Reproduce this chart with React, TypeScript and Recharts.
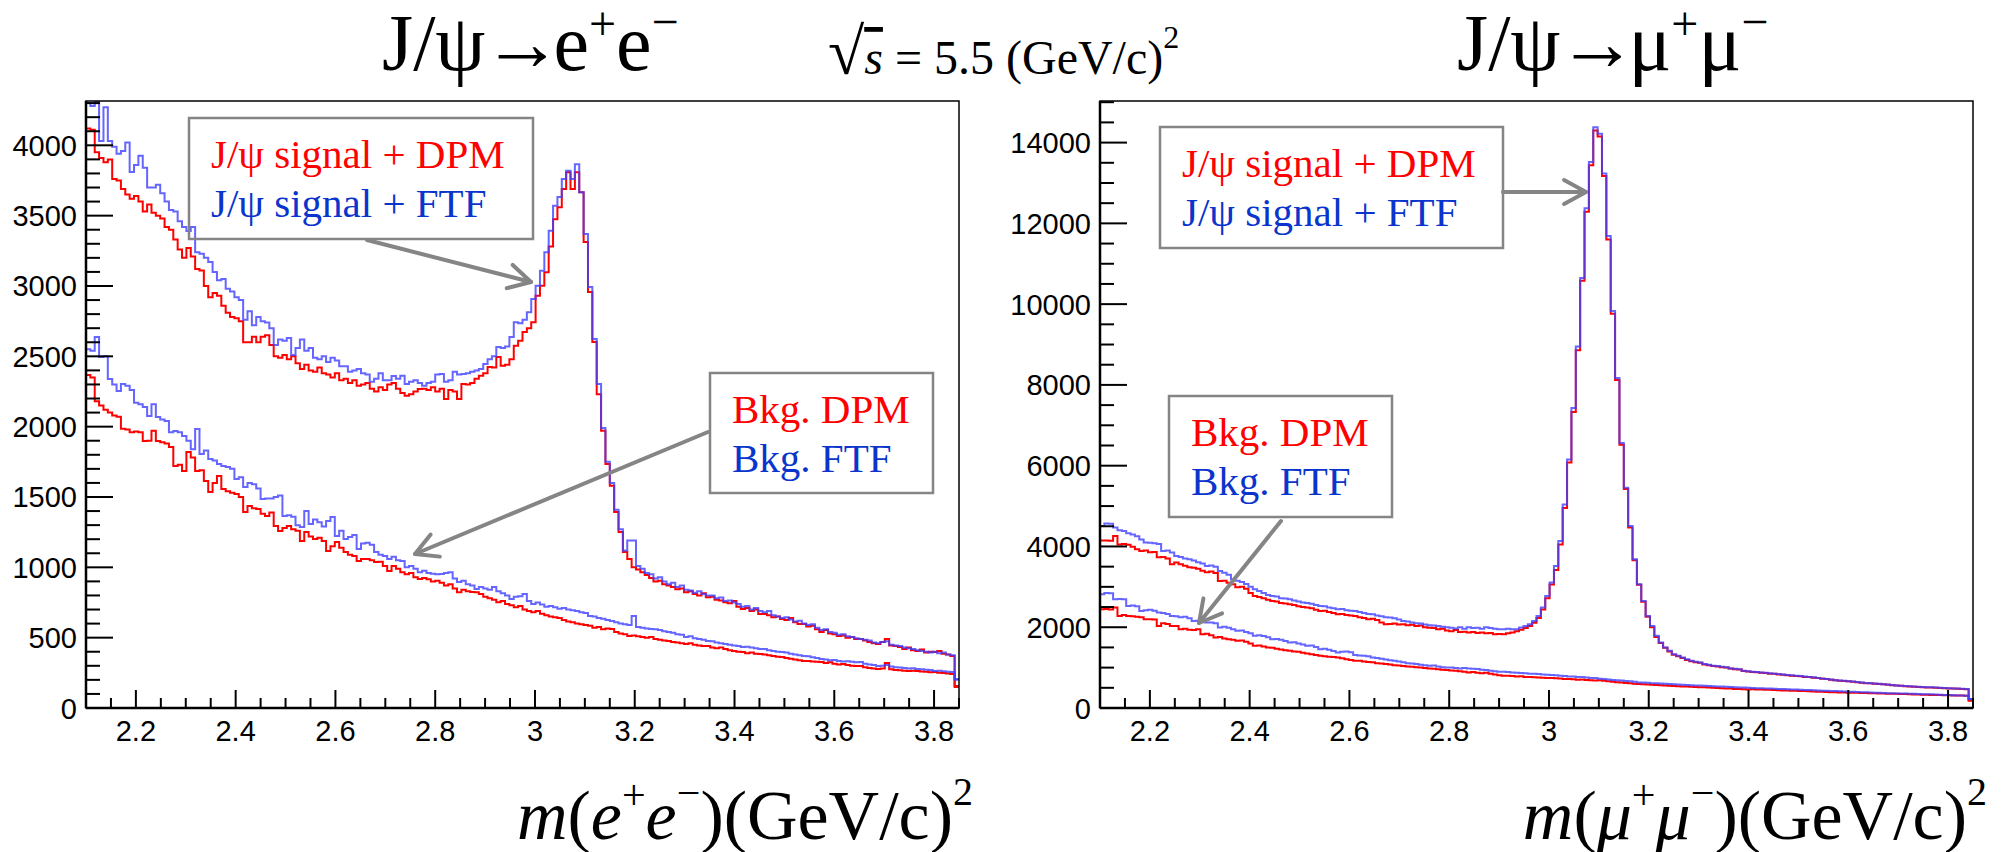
import React from "react";
import { LineChart, Line, XAxis, YAxis } from "recharts";

// binning: 200 bins from 2.1 to 3.85 GeV
const M_LO = 2.1;
const M_HI = 3.85;
const N_BINS = 200;
const BIN_W = (M_HI - M_LO) / N_BINS;

// ---- J/psi -> e+e- panel (counts per bin) ----
const eeSignalDPM = [
  4120, 4110, 3950, 3910, 3880, 3900, 3760, 3750, 3690, 3650,
  3620, 3640, 3600, 3530, 3580, 3520, 3500, 3480, 3420, 3400,
  3330, 3260, 3200, 3270, 3210, 3120, 3110, 3000, 2920, 2950,
  2930, 2860, 2810, 2780, 2770, 2750, 2600, 2600, 2640, 2600,
  2640, 2650, 2580, 2500, 2490, 2510, 2480, 2500, 2450, 2410,
  2440, 2400, 2390, 2420, 2380, 2370, 2350, 2380, 2330, 2340,
  2310, 2330, 2290, 2300, 2310, 2270, 2250, 2280, 2260, 2300,
  2310, 2270, 2240, 2220, 2230, 2250, 2267, 2270, 2260, 2280,
  2250, 2270, 2196, 2260, 2250, 2196, 2303, 2300, 2310, 2340,
  2362, 2380, 2424, 2420, 2495, 2433, 2440, 2480, 2575, 2611,
  2672, 2700, 2743, 2930, 3001, 3098, 3280, 3475, 3560, 3689,
  3809, 3689, 3809, 3667, 3312, 2957, 2601, 2231, 1971, 1734,
  1580, 1393, 1251, 1109, 1060, 1000, 985, 965, 945, 925,
  900, 905, 880, 870, 860, 845, 850, 823, 830, 810,
  800, 815, 787, 790, 770, 765, 752, 745, 760, 720,
  703, 710, 690, 700, 668, 668, 660, 645, 650, 633,
  625, 640, 610, 597, 597, 580, 585, 560, 540, 555,
  530, 525, 512, 515, 500, 505, 490, 490, 480, 470,
  460, 455, 470, 490, 445, 440, 433, 420, 430, 410,
  405, 415, 395, 400, 398, 405, 385, 380, 370, 156,
];
const eeSignalFTF = [
  4300, 4280, 4310, 4030, 4270, 4030, 3990, 3940, 3960, 4020,
  3810, 3860, 3925, 3840, 3700, 3700, 3720, 3660, 3600, 3540,
  3530, 3460, 3420, 3390, 3420, 3240, 3230, 3200, 3170, 3100,
  3040, 3050, 2980, 2960, 2920, 2900, 2760, 2820, 2720, 2780,
  2750, 2740, 2700, 2580, 2620, 2610, 2630, 2510, 2560, 2620,
  2540, 2560, 2490, 2480, 2500, 2460, 2490, 2470, 2430, 2430,
  2390, 2400, 2410, 2380, 2370, 2320, 2340, 2380, 2330, 2330,
  2360, 2340, 2362, 2303, 2320, 2330, 2310, 2290, 2310, 2320,
  2370, 2374, 2320, 2330, 2390, 2370, 2375, 2380, 2390, 2400,
  2409, 2445, 2480, 2500, 2566, 2560, 2570, 2637, 2743, 2735,
  2760, 2814, 2907, 3001, 3108, 3240, 3392, 3570, 3632, 3760,
  3819, 3760, 3866, 3667, 3369, 2992, 2623, 2303, 1990, 1750,
  1600, 1410, 1270, 1120, 1190, 1190, 1010, 990, 960, 950,
  920, 930, 900, 880, 890, 860, 870, 840, 835, 820,
  830, 810, 800, 800, 780, 785, 760, 765, 750, 740,
  720, 725, 700, 710, 690, 680, 690, 660, 650, 640,
  645, 630, 615, 620, 600, 590, 595, 570, 555, 560,
  540, 535, 520, 525, 510, 505, 495, 490, 485, 480,
  465, 460, 470, 475, 450, 445, 440, 430, 425, 420,
  410, 405, 400, 395, 400, 390, 395, 380, 375, 200,
];
const eeBkgDPM = [
  2367, 2350, 2180, 2150, 2120, 2100, 2080, 2070, 1985, 1980,
  1960, 1965, 1961, 1898, 1900, 1971, 1898, 1890, 1880, 1855,
  1720, 1730, 1684, 1819, 1780, 1684, 1690, 1613, 1535, 1600,
  1649, 1556, 1540, 1530, 1521, 1500, 1393, 1436, 1420, 1414,
  1380, 1365, 1390, 1294, 1258, 1280, 1294, 1270, 1260, 1187,
  1251, 1220, 1201, 1210, 1187, 1116, 1150, 1180, 1140, 1109,
  1090, 1080, 1045, 1060, 1059, 1050, 1038, 1040, 1010, 974,
  1009, 990, 965, 950, 960, 930, 917, 925, 915, 900,
  905, 890, 870, 880, 850, 823, 840, 830, 825, 823,
  810, 790, 780, 770, 752, 760, 740, 730, 716, 725,
  700, 690, 680, 690, 670, 660, 650, 645, 640, 625,
  615, 609, 600, 595, 590, 584, 570, 575, 560, 565,
  562, 540, 530, 525, 512, 515, 510, 505, 500, 505,
  490, 485, 480, 477, 470, 465, 460, 455, 460, 450,
  445, 440, 441, 430, 425, 430, 420, 410, 405, 400,
  398, 390, 395, 385, 384, 380, 375, 370, 365, 363,
  355, 350, 345, 340, 334, 335, 330, 328, 327, 320,
  325, 315, 310, 312, 305, 300, 298, 298, 290, 285,
  280, 277, 280, 320, 275, 270, 268, 265, 263, 265,
  263, 260, 258, 255, 256, 250, 248, 245, 241, 149,
];
const eeBkgFTF = [
  2551, 2540, 2637, 2495, 2500, 2338, 2300, 2253, 2303, 2290,
  2260, 2170, 2160, 2140, 2076, 2160, 2068, 2050, 2040, 1961,
  1970, 1960, 1933, 1900, 1840, 1983, 1805, 1830, 1770, 1760,
  1734, 1720, 1713, 1700, 1628, 1640, 1571, 1600, 1590, 1560,
  1485, 1490, 1490, 1500, 1510, 1365, 1370, 1360, 1300, 1286,
  1400, 1308, 1340, 1320, 1290, 1330, 1357, 1222, 1260, 1201,
  1215, 1230, 1130, 1170, 1175, 1160, 1109, 1090, 1080, 1059,
  1075, 1050, 1045, 1000, 1010, 990, 965, 975, 960, 955,
  950, 952, 960, 965, 920, 895, 905, 880, 870, 846,
  860, 850, 840, 860, 830, 815, 800, 775, 790, 795,
  810, 760, 739, 750, 735, 720, 725, 716, 705, 710,
  700, 695, 690, 680, 675, 654, 650, 640, 635, 625,
  618, 610, 600, 595, 590, 654, 575, 570, 565, 562,
  560, 555, 545, 540, 535, 525, 520, 505, 510, 495,
  490, 485, 477, 475, 465, 460, 455, 450, 445, 440,
  434, 435, 430, 425, 420, 420, 410, 405, 400, 398,
  395, 385, 380, 375, 370, 368, 360, 355, 348, 345,
  340, 342, 335, 330, 332, 328, 325, 327, 315, 310,
  305, 298, 300, 305, 295, 290, 288, 285, 280, 282,
  277, 275, 272, 270, 263, 265, 262, 258, 256, 206,
];

// ---- J/psi -> mu+mu- panel ----
const mmSignalDPM = [
  4150, 4150, 4140, 4257, 4051, 4060, 4040, 3990, 3928, 3886,
  3900, 3854, 3860, 3730, 3740, 3700, 3557, 3600, 3560, 3520,
  3483, 3470, 3450, 3400, 3360, 3380, 3340, 3145, 3150, 3100,
  3063, 2989, 3000, 2950, 2850, 2774, 2750, 2720, 2680, 2651,
  2640, 2600, 2590, 2569, 2550, 2520, 2500, 2486, 2470, 2430,
  2404, 2410, 2380, 2350, 2322, 2330, 2300, 2290, 2280, 2250,
  2230, 2198, 2210, 2180, 2120, 2075, 2080, 2090, 2070, 2075,
  2050, 2060, 2033, 2040, 2000, 1990, 1980, 1951, 1960, 1920,
  1900, 1930, 1880, 1890, 1868, 1880, 1860, 1870, 1850, 1860,
  1828, 1830, 1828, 1850, 1870, 1900, 1940, 1980, 2030, 2110,
  2230, 2440, 2720, 3060, 3420, 4050, 4950, 6080, 7330, 8860,
  10580, 12290, 13440, 14300, 14150, 13170, 11600, 9760, 8120, 6520,
  5420, 4470, 3660, 3050, 2630, 2260, 2000, 1760, 1610, 1490,
  1400, 1320, 1280, 1240, 1190, 1160, 1130, 1120, 1080, 1060,
  1040, 1030, 1010, 1000, 975, 960, 955, 915, 905, 890,
  885, 870, 865, 850, 845, 830, 825, 810, 800, 790,
  785, 770, 765, 750, 740, 725, 715, 700, 690, 675,
  670, 660, 650, 640, 625, 615, 610, 600, 595, 585,
  575, 565, 555, 548, 540, 535, 525, 520, 515, 510,
  505, 500, 495, 490, 485, 480, 478, 470, 465, 200,
];
const mmSignalFTF = [
  4504, 4570, 4560, 4471, 4400, 4380, 4330, 4298, 4250, 4175,
  4100, 4092, 4080, 4060, 3886, 3900, 3850, 3763, 3740, 3700,
  3681, 3650, 3607, 3580, 3516, 3530, 3500, 3392, 3350, 3300,
  3187, 3150, 3120, 3070, 3000, 2940, 2900, 2850, 2800, 2774,
  2760, 2720, 2710, 2693, 2660, 2640, 2610, 2600, 2580, 2550,
  2528, 2520, 2490, 2470, 2446, 2450, 2420, 2410, 2404, 2380,
  2350, 2330, 2322, 2290, 2270, 2250, 2240, 2220, 2190, 2157,
  2140, 2120, 2100, 2090, 2070, 2050, 2040, 2033, 2010, 2000,
  1990, 1970, 2000, 1960, 2000, 1980, 1990, 1960, 2000, 1980,
  1960, 1951, 1951, 1960, 1951, 1951, 1993, 2033, 2075, 2157,
  2280, 2486, 2774, 3105, 3516, 4133, 5040, 6151, 7428, 8950,
  10647, 12376, 13521, 14380, 14221, 13234, 11685, 9832, 8169, 6563,
  5452, 4504, 3681, 3063, 2651, 2280, 2033, 1786, 1623, 1499,
  1416, 1334, 1292, 1251, 1210, 1169, 1144, 1128, 1087, 1070,
  1045, 1040, 1020, 1010, 980, 970, 960, 922, 910, 900,
  890, 880, 870, 860, 850, 840, 830, 815, 808, 798,
  790, 780, 770, 760, 745, 730, 720, 705, 690, 680,
  675, 665, 655, 645, 630, 620, 615, 605, 600, 590,
  580, 570, 560, 551, 545, 540, 530, 525, 520, 515,
  511, 505, 500, 495, 490, 485, 480, 475, 469, 222,
];
const mmBkgDPM = [
  2446, 2450, 2440, 2486, 2280, 2300, 2280, 2270, 2260, 2250,
  2198, 2200, 2190, 2033, 2100, 2080, 2033, 2030, 1951, 1960,
  1940, 1930, 1950, 1828, 1840, 1800, 1746, 1760, 1720, 1700,
  1690, 1663, 1670, 1640, 1600, 1540, 1550, 1520, 1500, 1490,
  1470, 1450, 1430, 1416, 1400, 1390, 1370, 1350, 1330, 1310,
  1292, 1280, 1270, 1260, 1251, 1230, 1210, 1190, 1169, 1170,
  1150, 1140, 1130, 1110, 1100, 1087, 1080, 1060, 1050, 1040,
  1030, 1020, 1010, 1005, 990, 980, 970, 960, 950, 940,
  930, 922, 910, 900, 881, 890, 870, 860, 875, 850,
  830, 810, 798, 800, 790, 780, 785, 770, 765, 760,
  757, 750, 745, 740, 735, 730, 720, 716, 710, 700,
  705, 695, 690, 680, 685, 675, 660, 650, 640, 630,
  620, 610, 600, 593, 590, 580, 575, 570, 565, 560,
  551, 545, 540, 535, 530, 525, 520, 515, 511, 505,
  500, 495, 490, 485, 480, 469, 470, 465, 460, 462,
  458, 455, 450, 453, 445, 440, 435, 432, 428, 425,
  420, 418, 412, 410, 405, 400, 395, 390, 387, 385,
  382, 380, 378, 375, 372, 370, 368, 365, 360, 358,
  355, 352, 350, 346, 345, 340, 335, 333, 330, 328,
  325, 321, 320, 318, 315, 312, 310, 308, 305, 181,
];
const mmBkgFTF = [
  2816, 2850, 2840, 2693, 2700, 2690, 2528, 2540, 2520, 2404,
  2420, 2430, 2410, 2363, 2350, 2330, 2280, 2270, 2250, 2260,
  2220, 2157, 2160, 2140, 2116, 2120, 2100, 1993, 2010, 1990,
  1950, 1910, 1920, 1880, 1850, 1786, 1800, 1780, 1750, 1704,
  1710, 1690, 1660, 1623, 1630, 1600, 1570, 1540, 1550, 1510,
  1457, 1470, 1440, 1410, 1375, 1390, 1400, 1380, 1310, 1300,
  1292, 1280, 1250, 1240, 1220, 1200, 1180, 1169, 1150, 1130,
  1110, 1100, 1087, 1070, 1060, 1045, 1050, 1030, 1010, 1000,
  1005, 990, 980, 990, 975, 970, 963, 950, 940, 925,
  910, 900, 897, 890, 880, 875, 865, 860, 850, 845,
  840, 830, 825, 815, 810, 800, 795, 782, 780, 770,
  765, 755, 745, 740, 725, 716, 705, 695, 685, 680,
  670, 660, 650, 634, 630, 625, 615, 610, 605, 600,
  593, 588, 580, 575, 570, 565, 560, 555, 551, 545,
  540, 535, 530, 525, 520, 511, 510, 505, 500, 495,
  492, 486, 484, 480, 475, 470, 468, 465, 460, 455,
  453, 448, 445, 440, 435, 430, 425, 422, 420, 415,
  410, 405, 400, 395, 392, 387, 385, 380, 375, 372,
  368, 365, 362, 360, 358, 355, 350, 345, 342, 340,
  338, 335, 330, 325, 320, 318, 312, 310, 305, 222,
];

// axis ticks
const X_MAJOR = [2.2, 2.4, 2.6, 2.8, 3, 3.2, 3.4, 3.6, 3.8];
const X_MINOR_STEP = 0.05;
const EE_Y_MAX = 4315;
const EE_Y_MAJOR = 500;
const EE_Y_MINOR = 100;
const MM_Y_MAX = 15030;
const MM_Y_MAJOR = 2000;
const MM_Y_MINOR = 500;

const SERIF = "'Liberation Serif', 'Times New Roman', serif";
const SANS = "'Liberation Sans', Arial, sans-serif";
const RED = "#ff0000";
const BLUE_LINE = "#3f3fff";
const BLUE_TEXT = "#0a35cc";
const GREY = "#858585";

function buildRows(series: Record<string, number[]>) {
  const rows: Record<string, number>[] = [];
  for (let i = 0; i <= N_BINS; i++) {
    const row: Record<string, number> = { m: M_LO + i * BIN_W };
    for (const k of Object.keys(series)) row[k] = series[k][Math.min(i, N_BINS - 1)];
    rows.push(row);
  }
  return rows;
}

function rangeTicks(lo: number, hi: number, step: number) {
  const out: number[] = [];
  const n = Math.round((hi - lo) / step);
  for (let i = 0; i <= n; i++) out.push(Math.round((lo + i * step) * 1000) / 1000);
  return out;
}

const xTicks = rangeTicks(M_LO, M_HI, X_MINOR_STEP);

const eeRows = buildRows({ sD: eeSignalDPM, sF: eeSignalFTF, bD: eeBkgDPM, bF: eeBkgFTF });
const mmRows = buildRows({ sD: mmSignalDPM, sF: mmSignalFTF, bD: mmBkgDPM, bF: mmBkgFTF });

function YTick(props: any) {
  const { x, y, payload, major } = props;
  const v = payload.value as number;
  const isMajor = Math.abs(v / major - Math.round(v / major)) < 1e-6;
  return (
    <g>
      <line x1={x} x2={x + (isMajor ? 27 : 14)} y1={y} y2={y} stroke="#000" strokeWidth={2} />
      {isMajor && (
        <text x={x - 9} y={y + 10.5} textAnchor="end" fontSize={29} fontFamily={SANS} fill="#000">
          {v}
        </text>
      )}
    </g>
  );
}

function XTick(props: any) {
  const { x, y, payload } = props;
  const v = payload.value as number;
  const isMajor = X_MAJOR.some((t) => Math.abs(t - v) < 1e-6);
  return (
    <g>
      <line x1={x} x2={x} y1={y} y2={y - (isMajor ? 18 : 10)} stroke="#000" strokeWidth={2} />
      {isMajor && (
        <text x={x} y={y + 33} textAnchor="middle" fontSize={29} fontFamily={SANS} fill="#000">
          {v === 3 ? "3" : v.toFixed(1)}
        </text>
      )}
    </g>
  );
}

function Panel({ rows, yMax, yMajor, yMinor, width, left, right }: any) {
  return (
    <LineChart width={width} height={852} data={rows} margin={{ top: 101, right, bottom: 0, left: 0 }}>
      <XAxis
        dataKey="m"
        type="number"
        domain={[M_LO, M_HI]}
        ticks={xTicks}
        interval={0}
        allowDataOverflow
        height={144}
        axisLine={false}
        tickLine={false}
        tickSize={0}
        tickMargin={0}
        tick={(p: any) => <XTick {...p} />}
      />
      <YAxis
        type="number"
        domain={[0, yMax]}
        ticks={rangeTicks(0, Math.floor(yMax / yMinor) * yMinor, yMinor)}
        interval={0}
        allowDataOverflow
        width={left}
        axisLine={false}
        tickLine={false}
        tickSize={0}
        tickMargin={0}
        tick={(p: any) => <YTick {...p} major={yMajor} />}
      />
      <Line type="stepAfter" dataKey="bD" stroke={RED} strokeWidth={2} dot={false} isAnimationActive={false} />
      <Line type="stepAfter" dataKey="sD" stroke={RED} strokeWidth={2} dot={false} isAnimationActive={false} />
      <Line type="stepAfter" dataKey="bF" stroke={BLUE_LINE} strokeOpacity={0.8} strokeWidth={2} dot={false} isAnimationActive={false} />
      <Line type="stepAfter" dataKey="sF" stroke={BLUE_LINE} strokeOpacity={0.8} strokeWidth={2} dot={false} isAnimationActive={false} />
    </LineChart>
  );
}

function Arrow({ x1, y1, x2, y2 }: { x1: number; y1: number; x2: number; y2: number }) {
  const a = Math.atan2(y2 - y1, x2 - x1);
  const L = 25;
  const s = 0.5;
  const p1 = [x2 - L * Math.cos(a - s), y2 - L * Math.sin(a - s)];
  const p2 = [x2 - L * Math.cos(a + s), y2 - L * Math.sin(a + s)];
  return (
    <g stroke={GREY} strokeWidth={4} strokeLinecap="round" fill="none">
      <line x1={x1} y1={y1} x2={x2} y2={y2} />
      <polyline points={`${p1[0]},${p1[1]} ${x2},${y2} ${p2[0]},${p2[1]}`} strokeLinejoin="round" />
    </g>
  );
}

function LegendBox({ x, y, w, h, l1, l2 }: any) {
  return (
    <g>
      <rect x={x} y={y} width={w} height={h} fill="none" stroke={GREY} strokeWidth={2.5} />
      <text x={x + 22} y={y + 50} fontFamily={SERIF} fontSize={41} fill={RED}>{l1}</text>
      <text x={x + 22} y={y + 99} fontFamily={SERIF} fontSize={41} fill={BLUE_TEXT}>{l2}</text>
    </g>
  );
}

function Frame({ x0, y0, x1, y1 }: any) {
  return (
    <g fill="none" stroke="#000">
      <rect x={x0} y={y0} width={x1 - x0} height={y1 - y0} strokeWidth={1.5} />
      <line x1={x0} y1={y0} x2={x0} y2={y1} strokeWidth={2.5} />
      <line x1={x0} y1={y1} x2={x1} y2={y1} strokeWidth={2.5} />
    </g>
  );
}

export default function App() {
  return (
    <div style={{ position: "absolute", left: 0, top: 0, width: 2004, height: 852, background: "#fff" }}>
      <div style={{ position: "absolute", left: 0, top: 0 }}>
        <Panel rows={eeRows} yMax={EE_Y_MAX} yMajor={EE_Y_MAJOR} yMinor={EE_Y_MINOR} width={1000} left={86} right={41} />
      </div>
      <div style={{ position: "absolute", left: 1000, top: 0 }}>
        <Panel rows={mmRows} yMax={MM_Y_MAX} yMajor={MM_Y_MAJOR} yMinor={MM_Y_MINOR} width={1004} left={100} right={31} />
      </div>
      <svg width={2004} height={852} style={{ position: "absolute", left: 0, top: 0, pointerEvents: "none" }}>
        <Frame x0={86} y0={101} x1={959} y1={708} />
        <Frame x0={1100} y0={101} x1={1973} y1={708} />

        {/* titles */}
        <text x={382} y={70} fontFamily={SERIF} fontSize={80} fill="#000">
          J/ψ<tspan dx={-3}>→</tspan><tspan dx={-9}>e</tspan><tspan dy={-30} fontSize={48}>+</tspan><tspan dy={30} fontSize={80}>e</tspan><tspan dy={-32} fontSize={48}>−</tspan>
        </text>
        <text x={828} y={74} fontFamily={SERIF} fontSize={48} fill="#000">
          <tspan fontSize={66}>√</tspan><tspan fontStyle="italic" textDecoration="overline">s</tspan><tspan> = 5.5 (GeV/c)</tspan><tspan dy={-26} fontSize={32}>2</tspan>
        </text>
        <text x={1457} y={70} fontFamily={SERIF} fontSize={80} fill="#000">
          J/ψ<tspan dx={-3}>→</tspan><tspan dx={-9}>μ</tspan><tspan dy={-30} fontSize={48}>+</tspan><tspan dy={30} fontSize={80}>μ</tspan><tspan dy={-32} fontSize={48}>−</tspan>
        </text>

        {/* axis titles */}
        <text x={973} y={839} textAnchor="end" fontFamily={SERIF} fontSize={70} fill="#000">
          <tspan fontStyle="italic">m</tspan>(<tspan fontStyle="italic">e</tspan><tspan dy={-30} fontSize={42}>+</tspan><tspan dy={30} fontStyle="italic">e</tspan><tspan dy={-32} fontSize={42}>−</tspan><tspan dy={32}>)(GeV/c)</tspan><tspan dy={-34} fontSize={40}>2</tspan>
        </text>
        <text x={1987} y={839} textAnchor="end" fontFamily={SERIF} fontSize={70} fill="#000">
          <tspan fontStyle="italic">m</tspan>(<tspan fontStyle="italic">μ</tspan><tspan dy={-30} fontSize={42}>+</tspan><tspan dy={30} fontStyle="italic">μ</tspan><tspan dy={-32} fontSize={42}>−</tspan><tspan dy={32}>)(GeV/c)</tspan><tspan dy={-34} fontSize={40}>2</tspan>
        </text>

        {/* legends */}
        <LegendBox x={189} y={118} w={344} h={121} l1="J/ψ signal + DPM" l2="J/ψ signal + FTF" />
        <LegendBox x={710} y={373} w={223} h={120} l1="Bkg. DPM" l2="Bkg. FTF" />
        <LegendBox x={1160} y={127} w={343} h={121} l1="J/ψ signal + DPM" l2="J/ψ signal + FTF" />
        <LegendBox x={1169} y={396} w={223} h={121} l1="Bkg. DPM" l2="Bkg. FTF" />

        {/* arrows */}
        <Arrow x1={367} y1={240} x2={531} y2={282} />
        <Arrow x1={708} y1={432} x2={415} y2={554} />
        <Arrow x1={1503} y1={192} x2={1586} y2={192} />
        <Arrow x1={1281} y1={521} x2={1199} y2={623} />
      </svg>
    </div>
  );
}
